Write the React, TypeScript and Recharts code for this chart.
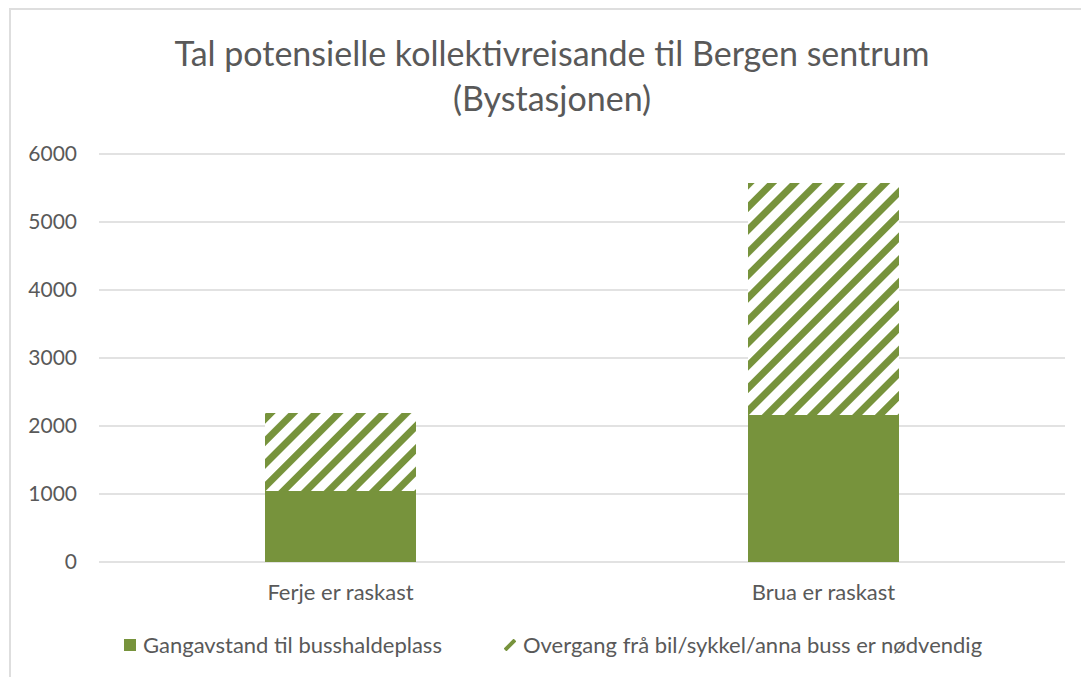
import { BarChart, Bar, XAxis, YAxis, CartesianGrid, Legend } from "recharts";

const categories = ["Ferje er raskast", "Brua er raskast"];
const gangavstand = [1045, 2160];
const overgang = [1145, 3415];
const yTicks = [0, 1000, 2000, 3000, 4000, 5000, 6000];

const seriesNames = [
  "Gangavstand til busshaldeplass",
  "Overgang frå bil/sykkel/anna buss er nødvendig",
];

const GREEN = "#77933C";
const TEXT = "#595959";
const FONT = "Lato, 'Open Sans', sans-serif";

const data = categories.map((name, i) => ({
  name,
  gang: gangavstand[i],
  overgang: overgang[i],
}));

function LegendContent() {
  return (
    <div
      style={{
        display: "flex",
        alignItems: "center",
        paddingLeft: 124,
        fontFamily: FONT,
        fontSize: 22,
        color: TEXT,
        lineHeight: "26px",
      }}
    >
      <div style={{ display: "flex", alignItems: "center", marginRight: 62 }}>
        <svg width={12} height={12} style={{ marginRight: 7 }}>
          <rect width={12} height={12} fill={GREEN} />
        </svg>
        <span>{seriesNames[0]}</span>
      </div>
      <div style={{ display: "flex", alignItems: "center" }}>
        <svg width={12} height={12} style={{ marginRight: 7 }}>
          <line x1={1} y1={11} x2={11} y2={1} stroke={GREEN} strokeWidth={4} />
        </svg>
        <span>{seriesNames[1]}</span>
      </div>
    </div>
  );
}

export default function App() {
  return (
    <div
      style={{
        position: "absolute",
        left: 0,
        top: 0,
        width: 1081,
        height: 677,
        overflow: "hidden",
        background: "#fff",
      }}
    >
      {/* ramme rundt diagrammet */}
      <div
        style={{
          position: "absolute",
          left: 9,
          top: 8,
          width: 1200,
          height: 800,
          borderLeft: "2px solid #dedede",
          borderTop: "2px solid #dedede",
        }}
      />

      <div
        style={{
          position: "absolute",
          left: 52,
          width: 1000,
          top: 30,
          textAlign: "center",
          fontFamily: FONT,
          fontSize: 34,
          lineHeight: "45px",
          color: TEXT,
        }}
      >
        Tal potensielle kollektivreisande til Bergen sentrum
        <br />
        (Bystasjonen)
      </div>

      <div style={{ position: "absolute", left: 0, top: 0 }}>
        <BarChart
          width={1081}
          height={677}
          data={data}
          margin={{ top: 154, right: 16, left: 0, bottom: 85 }}
          barSize={151}
        >
          <defs>
            <pattern
              id="hatch"
              patternUnits="userSpaceOnUse"
              width={16}
              height={16}
              patternTransform="rotate(45)"
            >
              <rect width={16} height={16} fill="#fff" />
              <rect x={0} width={7} height={16} fill={GREEN} />
            </pattern>
          </defs>
          <CartesianGrid vertical={false} stroke="#d9d9d9" strokeWidth={1.5} />
          <XAxis
            dataKey="name"
            axisLine={false}
            tickLine={false}
            tickSize={0}
            tickMargin={22}
            height={30}
            tick={{ fill: TEXT, fontSize: 22, fontFamily: FONT }}
          />
          <YAxis
            width={99}
            domain={[0, 6000]}
            ticks={yTicks}
            axisLine={false}
            tickLine={false}
            tickSize={0}
            tickMargin={22}
            tick={{ fill: TEXT, fontSize: 21, fontFamily: FONT }}
          />
          <Legend
            layout="horizontal"
            verticalAlign="middle"
            align="center"
            content={<LegendContent />}
            wrapperStyle={{ top: 632, left: 0, width: 1081 }}
          />
          <Bar
            dataKey="gang"
            stackId="a"
            name={seriesNames[0]}
            fill={GREEN}
            isAnimationActive={false}
          />
          <Bar
            dataKey="overgang"
            stackId="a"
            name={seriesNames[1]}
            fill="url(#hatch)"
            isAnimationActive={false}
          />
        </BarChart>
      </div>
    </div>
  );
}
